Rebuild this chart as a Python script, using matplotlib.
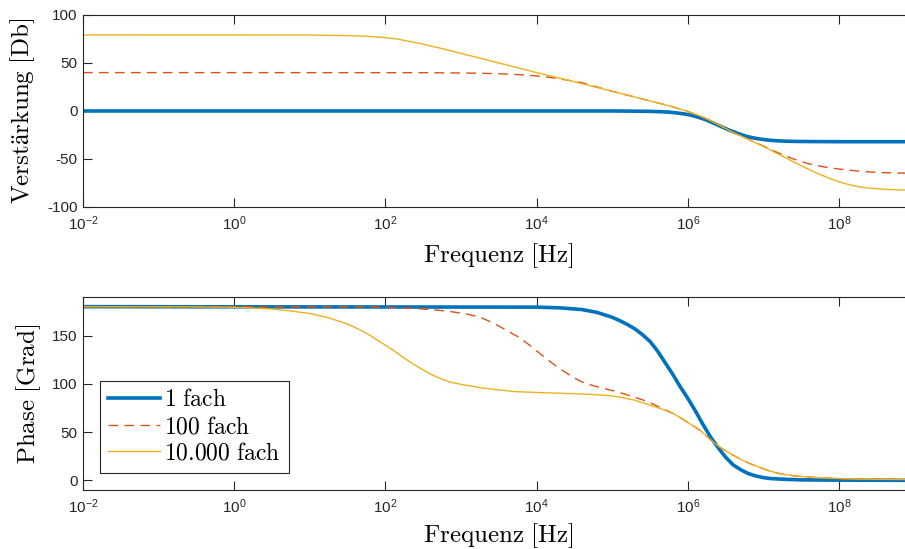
import matplotlib
matplotlib.use('Agg')
import matplotlib.pyplot as plt

plt.rcParams['font.family'] = ['Liberation Sans', 'DejaVu Sans']
plt.rcParams['mathtext.fontset'] = 'custom'
plt.rcParams['mathtext.rm'] = 'Liberation Sans'
plt.rcParams['mathtext.it'] = 'Liberation Sans:italic'
plt.rcParams['mathtext.bf'] = 'Liberation Sans:bold'
plt.rcParams['axes.unicode_minus'] = False

# Legend names
labels = ['1 fach', '100 fach', '10.000 fach']

# Gain curves (log10 of frequency in Hz, gain in dB)
gain_1_logf = [-2, 5.0, 5.3, 5.5, 5.65, 5.75, 5.85, 5.95, 6.05, 6.15, 6.25, 6.35, 6.45,
               6.55, 6.65, 6.75, 6.85, 6.95, 7.05, 7.15, 7.3, 7.5, 8.0, 9.0]
gain_1_db = [0, 0, -0.2, -0.4, -0.8, -1.2, -2, -3, -4.5, -6.8, -9.5, -13, -16.5,
             -20, -23, -25.8, -27.8, -29.2, -30.2, -30.9, -31.5, -31.8, -32, -32]

gain_100_logf = [-2, 2.5, 3.0, 3.25, 3.5, 3.75, 4.0, 4.15, 4.3, 4.45, 4.6, 4.8, 5.0, 5.5,
                 5.8, 6.0, 6.15, 6.3, 6.45, 6.6, 6.8, 7.0, 7.15, 7.3, 7.45, 7.6, 7.8,
                 8.0, 8.2, 8.4, 8.6, 9.0]
gain_100_db = [40, 39.9, 39.6, 39.3, 38.8, 37.9, 36.5, 35.2, 33.5, 31.6, 29.5, 25, 20.5, 10.5,
               4.3, -0.5, -4.8, -10, -16, -22.5, -29.5, -36.5, -42, -47, -51.5, -55, -58.2,
               -60.5, -62.2, -63.5, -64.3, -65]

gain_10k_logf = [-2, 1.0, 1.5, 1.75, 2.0, 2.15, 2.25, 2.4, 2.5, 2.75, 3.0, 3.5, 4.0, 4.5,
                 5.0, 5.5, 5.8, 6.0, 6.15, 6.3, 6.45, 6.6, 6.8, 7.0, 7.25, 7.5, 7.7, 7.9,
                 8.05, 8.2, 8.35, 8.5, 8.7, 9.0]
gain_10k_db = [79.2, 79.1, 78.5, 77.8, 76.5, 75, 73.5, 71.2, 69.5, 65, 60, 50, 40, 30.5,
               20.5, 10.5, 4.3, -0.5, -4.8, -10, -16, -22.5, -29.5, -37, -47, -57, -64.5, -71,
               -75, -78, -80, -81, -82, -82.5]

# Phase curves (log10 of frequency in Hz, phase in degrees)
phase_1_logf = [-2, 4.0, 4.3, 4.6, 4.8, 5.0, 5.1, 5.2, 5.3, 5.4, 5.5, 5.6, 5.7, 5.8, 5.9,
                6.0, 6.1, 6.2, 6.3, 6.4, 6.5, 6.6, 6.7, 6.8, 6.9, 7.0, 7.1, 7.3, 7.5, 8.0, 9.0]
phase_1_deg = [180, 179.5, 178.8, 177, 174, 169, 165.5, 161.5, 157, 151, 144, 134, 122, 110, 97,
               85, 72, 58, 45, 34, 24, 16, 11, 7, 4.5, 2.8, 1.8, 1, 0.5, 0.2, 0]

phase_100_logf = [-2, 1.5, 2.0, 2.3, 2.5, 2.7, 2.85, 3.0, 3.1, 3.2, 3.3, 3.4, 3.5, 3.6,
                  3.75, 3.85, 3.95, 4.05, 4.18, 4.3, 4.4, 4.5, 4.6, 4.72, 4.85, 4.95, 5.06,
                  5.18, 5.3, 5.4, 5.5, 5.65, 5.8, 5.9, 6.0, 6.16, 6.33, 6.45, 6.6, 6.72,
                  6.82, 6.95, 7.05, 7.15, 7.26, 7.45, 7.7, 8.15, 8.6, 9.0]
phase_100_deg = [180, 179.8, 179.3, 178.5, 177.5, 176.3, 175, 173.3, 172, 170, 167.5, 164, 160,
                 155.5, 149, 143.5, 137.5, 131, 123, 116, 111, 106, 102, 98.8, 96, 94, 92,
                 89, 86, 83.5, 80.5, 75, 69.5, 65, 60, 52, 40, 33, 26, 21,
                 17.4, 13.5, 10.4, 8.2, 6.2, 4.3, 2.8, 1.4, 1, 0.8]

phase_10k_logf = [-2, -0.5, 0.0, 0.25, 0.5, 0.75, 1.0, 1.25, 1.5, 1.65, 1.8, 1.9, 2.0, 2.1,
                  2.2, 2.3, 2.4, 2.5, 2.6, 2.7, 2.85, 3.0, 3.3, 3.7, 4.2, 4.6, 4.85, 5.0,
                  5.15, 5.3, 5.5, 5.65, 5.8, 5.9, 6.0, 6.16, 6.33, 6.45, 6.6, 6.72, 6.82,
                  6.95, 7.05, 7.15, 7.26, 7.45, 7.7, 8.15, 8.6, 9.0]
phase_10k_deg = [180, 179.8, 179.3, 178.6, 177.5, 175.5, 173, 168.5, 162, 156.5, 150, 145, 140,
                 135, 129.5, 124, 119, 114.5, 110, 106.5, 102, 99.5, 95.5, 92, 90.5, 89.5,
                 88.5, 87.5, 85.5, 83, 78, 74, 69.5, 65, 60, 52, 40, 33, 26, 21, 17.4,
                 13.5, 10.4, 8.2, 6.2, 4.3, 2.8, 1.4, 1, 0.8]

xticks = [1e-2, 1e0, 1e2, 1e4, 1e6, 1e8]

colors = ['#0072BD', '#D95319', '#EDB120']
styles = [dict(lw=2.6), dict(lw=1.0, dashes=(7, 4.5)), dict(lw=1.0)]

fig = plt.figure(figsize=(9.05, 5.49), dpi=100)
ax1 = fig.add_axes([0.0917, 0.6230, 0.9189, 0.3497])
ax2 = fig.add_axes([0.0917, 0.1075, 0.9189, 0.3515])

gain = [(gain_1_logf, gain_1_db), (gain_100_logf, gain_100_db), (gain_10k_logf, gain_10k_db)]
phase = [(phase_1_logf, phase_1_deg), (phase_100_logf, phase_100_deg),
         (phase_10k_logf, phase_10k_deg)]

for (lf, v), c, st in zip(gain, colors, styles):
    ax1.plot([10 ** p for p in lf], v, color=c, **st)
for (lf, v), c, st, lab in zip(phase, colors, styles, labels):
    ax2.plot([10 ** p for p in lf], v, color=c, label=lab, **st)

for ax in (ax1, ax2):
    ax.set_xscale('log')
    ax.set_xlim(1e-2, 1e9)
    ax.set_xticks(xticks)
    ax.minorticks_off()
    ax.tick_params(direction='in', length=6.5, width=0.8, colors='#262626',
                   labelsize=11, top=True, right=True)
    ax.tick_params(axis='x', pad=5)
    ax.tick_params(axis='y', pad=4)
    for s in ax.spines.values():
        s.set_color('#262626')
        s.set_linewidth(0.8)

ax1.set_ylim(-100, 100)
ax1.set_yticks([-100, -50, 0, 50, 100])
ax2.set_ylim(-10, 190)
ax2.set_yticks([0, 50, 100, 150])

ax1.set_xlabel(r'$\mathrm{Frequenz\ [Hz]}$', math_fontfamily='cm', fontsize=18)
ax1.set_ylabel(r'$\mathrm{Verstärkung\ [Db]}$', math_fontfamily='cm', fontsize=18)
ax2.set_xlabel(r'$\mathrm{Frequenz\ [Hz]}$', math_fontfamily='cm', fontsize=18)
ax2.set_ylabel(r'$\mathrm{Phase\ [Grad]}$', math_fontfamily='cm', fontsize=18)
ax1.xaxis.set_label_coords(0.499, -0.18)
ax2.xaxis.set_label_coords(0.499, -0.16)
ax1.yaxis.set_label_coords(-0.055, 0.5)
ax2.yaxis.set_label_coords(-0.0481, 0.5)

leg = ax2.legend(loc='lower left', bbox_to_anchor=(0.0204, 0.088), borderaxespad=0,
                 fontsize=17, handlelength=2.2, handletextpad=0.17, labelspacing=0.2,
                 borderpad=0.35, fancybox=False, framealpha=1, edgecolor='#262626')
leg.get_frame().set_linewidth(0.8)
for t in leg.get_texts():
    t.set_text('$\\mathrm{' + t.get_text().replace(' ', '\\ ') + '}$')
    t.set_math_fontfamily('cm')

fig.savefig('out.png', dpi=100)
